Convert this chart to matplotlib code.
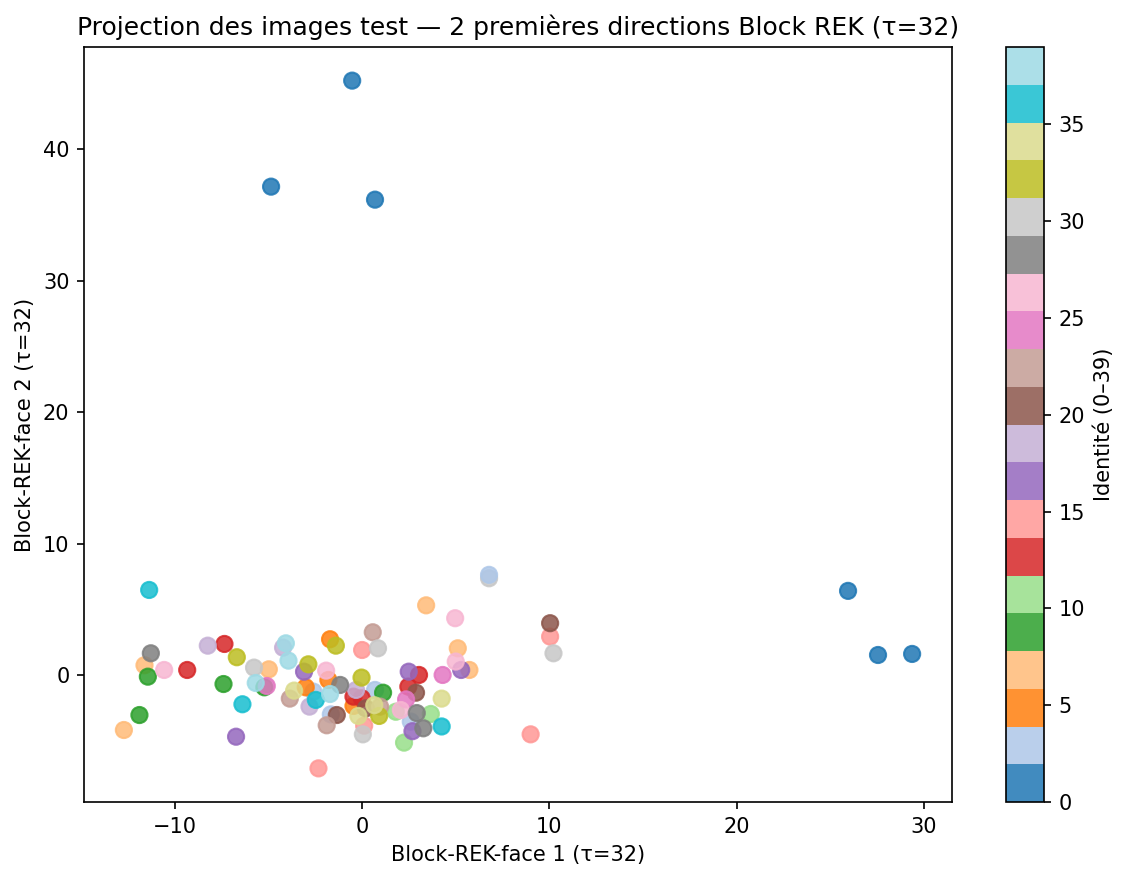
import matplotlib
matplotlib.use("Agg")
import matplotlib.pyplot as plt

# Colour class k of tab20 corresponds to identities 2k and 2k+1 (vmin=0, vmax=39)
proj_x = [
    # k0 blue
    -0.53, -4.86, 0.69, 25.95, 27.55, 29.37,
    # k15 light gray (drawn under the light blue point)
    6.78,
    # k1 light blue
    6.78, -2.60, 0.69, -1.67, 2.60,
    # k2 orange
    -1.71, -1.80, -3.01, -0.46,
    # k3 light orange
    -11.62, -12.72, -4.98, 3.42, 5.11, 5.73,
    # k4 green
    -11.44, -11.89, -7.40, -5.22, 1.12,
    # k5 light green
    1.80, 3.67, 2.24,
    # k6 red
    -9.34, -7.35, -0.46, -0.02, 2.47, 3.04,
    # k7 light red
    0.00, -2.33, 0.11, 10.04, 9.00,
    # k8 purple
    -6.73, -3.10, 2.49, 5.29, 2.69,
    # k9 light purple
    -8.24, -4.22, -2.81, -0.32,
    # k10 brown
    -1.35, 0.20, 2.88, 10.04,
    # k11 light brown
    0.57, -3.86, -1.89, 0.96,
    # k12 pink
    -5.09, 4.30, 2.35,
    # k13 light pink
    -10.57, -1.92, 4.97, 5.00, 2.07,
    # k14 gray
    -11.28, -1.17, 2.92, 3.27,
    # k15 light gray
    -5.77, 0.85, 0.04, 10.22,
    # k16 olive
    -6.69, -2.87, -1.40, -0.03, 0.91,
    # k17 light olive
    -3.63, 0.65, -0.20, 4.25,
    # k18 cyan
    -11.37, -6.39, -2.47, 4.25,
    # k19 light cyan
    -5.68, -4.07, -3.93, -1.71,
]

proj_y = [
    45.24, 37.17, 36.18, 6.40, 1.52, 1.60,
    7.36,
    7.62, -1.27, -1.14, -3.00, -3.55,
    2.72, -0.38, -0.94, -2.36,
    0.74, -4.19, 0.43, 5.30, 2.03, 0.38,
    -0.13, -3.05, -0.69, -0.94, -1.35,
    -2.80, -2.97, -5.15,
    0.38, 2.36, -1.65, -1.77, -0.89, 0.00,
    1.90, -7.11, -3.86, 2.92, -4.52,
    -4.70, 0.25, 0.25, 0.38, -4.28,
    2.23, 2.08, -2.41, -1.14,
    -3.05, -2.54, -1.35, 3.94,
    3.25, -1.80, -3.83, -2.41,
    -0.84, 0.00, -1.86,
    0.38, 0.33, 4.32, 1.02, -2.67,
    1.65, -0.76, -2.90, -4.06,
    0.56, 2.03, -4.52, 1.65,
    1.35, 0.81, 2.23, -0.20, -3.12,
    -1.19, -2.30, -3.12, -1.80,
    6.47, -2.23, -1.90, -3.92,
    -0.61, 2.41, 1.09, -1.45,
]

identity = (
    [0, 1, 0, 1, 0, 1]
    + [31]
    + [2, 3, 2, 3, 2]
    + [4, 5, 4, 5]
    + [6, 7, 6, 7, 6, 7]
    + [8, 9, 8, 9, 8]
    + [10, 11, 10]
    + [12, 13, 12, 13, 12, 13]
    + [14, 15, 14, 15, 14]
    + [16, 17, 16, 17, 16]
    + [18, 19, 18, 19]
    + [20, 21, 20, 21]
    + [22, 23, 22, 23]
    + [24, 25, 24]
    + [26, 27, 26, 27, 26]
    + [28, 29, 28, 29]
    + [30, 31, 30, 31]
    + [32, 33, 32, 33, 32]
    + [34, 35, 34, 35]
    + [36, 37, 36, 37]
    + [38, 39, 38, 39]
)

title = "Projection des images test — 2 premières directions Block REK (τ=32)"
xlabel = "Block-REK-face 1 (τ=32)"
ylabel = "Block-REK-face 2 (τ=32)"
cbar_label = "Identité (0–39)"

fig = plt.figure(figsize=(1129 / 150, 881 / 150), dpi=150)
ax = fig.add_axes([84 / 1129, 79 / 881, (952 - 84) / 1129, (802 - 47) / 881])
cax = fig.add_axes([1006 / 1129, 79 / 881, 38 / 1129, (802 - 47) / 881])

sc = ax.scatter(proj_x, proj_y, c=identity, cmap="tab20", vmin=0, vmax=39,
                s=60, alpha=0.85)
ax.set_xlim(-14.85, 31.5)
ax.set_ylim(-9.67, 47.8)
ax.set_title(title, fontsize=12)
ax.set_xlabel(xlabel)
ax.set_ylabel(ylabel)

cb = fig.colorbar(sc, cax=cax)
cb.set_label(cbar_label)

fig.savefig("out.png", dpi=150)
